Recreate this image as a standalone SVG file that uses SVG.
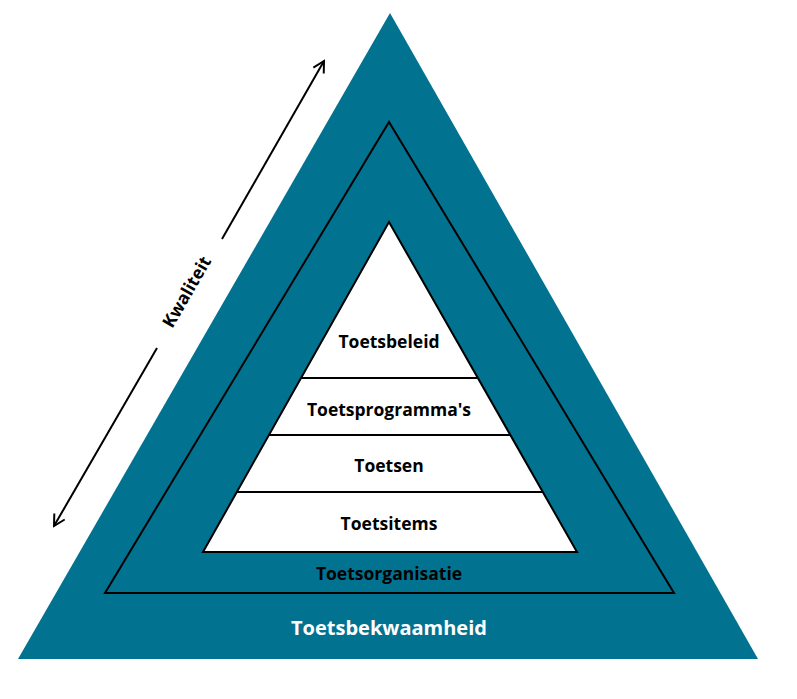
<svg xmlns="http://www.w3.org/2000/svg" width="797" height="699" viewBox="0 0 797 699">
  <style>
    .lbl { font-family: "Open Sans", "Liberation Sans", sans-serif; font-weight: bold; text-anchor: middle; }
    .dark { fill: #000; font-size: 17.5px; }
    .line { stroke: #000; stroke-width: 2; fill: none; }
  </style>
  <defs>
    <marker id="open-head" viewBox="0 0 14 14" refX="12" refY="7" markerWidth="14" markerHeight="14" markerUnits="userSpaceOnUse" orient="auto">
      <path d="M1,1 L12,7 L1,13" fill="none" stroke="#000" stroke-width="2"/>
    </marker>
  </defs>
  <rect width="797" height="699" fill="#fff"/>

  <g id="toetsbekwaamheid">
    <polygon points="390,13 758,659 18,659" fill="#027291"/>
    <text class="lbl" x="389" y="635" font-size="20" fill="#fff">Toetsbekwaamheid</text>
  </g>

  <g id="toetsorganisatie">
    <polygon points="389,122 674,593 105,593" fill="#027291" stroke="#000" stroke-width="2"/>
    <text class="lbl dark" x="389" y="580">Toetsorganisatie</text>
  </g>

  <g id="pyramid">
    <polygon points="389,222 577,552 203,552" fill="#fff" stroke="#000" stroke-width="2"/>
    <line class="line" x1="301" y1="378" x2="477" y2="378"/>
    <line class="line" x1="268" y1="435" x2="510" y2="435"/>
    <line class="line" x1="236" y1="492" x2="543" y2="492"/>
  </g>
  <g id="toetsbeleid"><text class="lbl dark" x="389" y="348">Toetsbeleid</text></g>
  <g id="toetsprogrammas"><text class="lbl dark" x="389" y="416">Toetsprogramma's</text></g>
  <g id="toetsen"><text class="lbl dark" x="389" y="472">Toetsen</text></g>
  <g id="toetsitems"><text class="lbl dark" x="389" y="530">Toetsitems</text></g>

  <g id="connectors">
    <line class="line" x1="222" y1="239" x2="324" y2="61" marker-end="url(#open-head)"/>
    <line class="line" x1="157" y1="348" x2="54" y2="526" marker-end="url(#open-head)"/>
  </g>
  <g id="kwaliteit">
    <text class="lbl dark" x="0" y="0" font-size="19" transform="translate(192,295) rotate(-60)">Kwaliteit</text>
  </g>
</svg>
